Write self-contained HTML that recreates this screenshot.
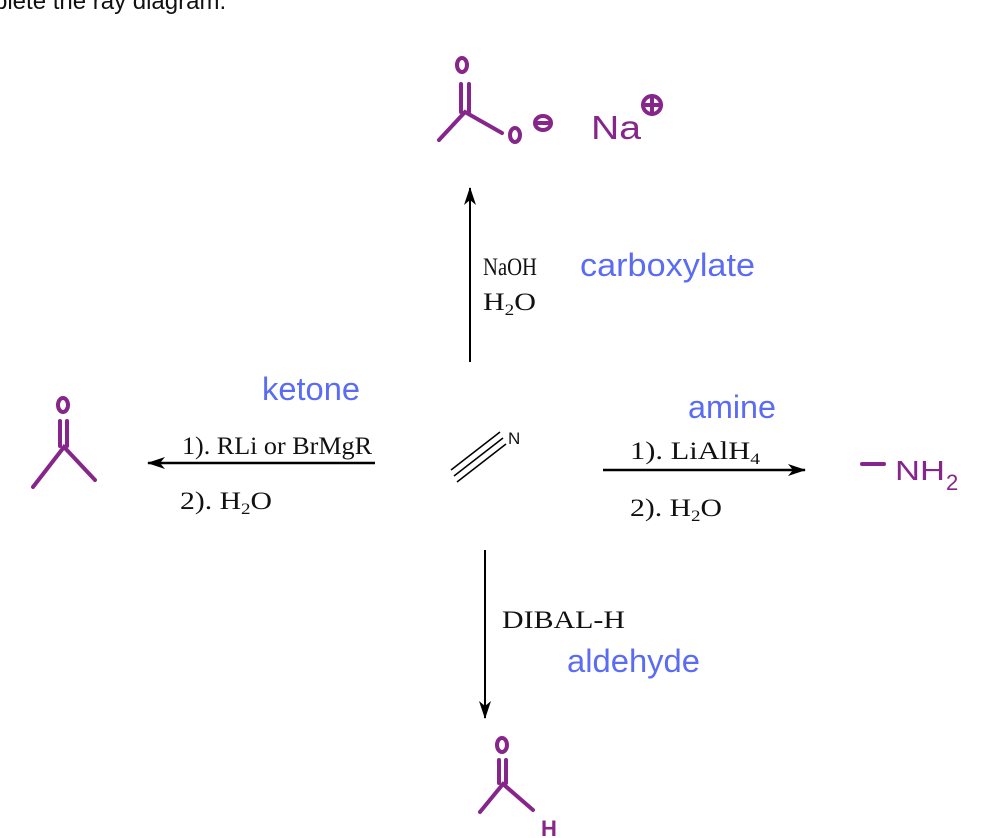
<!DOCTYPE html>
<html><head><meta charset="utf-8"><style>
html,body{margin:0;padding:0;background:#fff;}
svg{display:block;}
.t{font-family:"Liberation Serif",serif;font-size:25px;fill:#111;}
.b{font-family:"Liberation Sans",sans-serif;fill:#5a6cf3;font-size:32px;}
.p{stroke:#86268a;stroke-width:4;fill:none;stroke-linecap:round;}
.pt{font-family:"Liberation Sans",sans-serif;fill:#86268a;}
</style></head><body>
<svg width="1000" height="838" viewBox="0 0 1000 838" xmlns="http://www.w3.org/2000/svg">
<defs><marker id="a" markerWidth="18" markerHeight="12" refX="17" refY="6" orient="auto" markerUnits="userSpaceOnUse"><path d="M0,0 L18,6 L0,12 L5,6 Z" fill="#000"/></marker></defs>
<text x="-6" y="9" font-family="Liberation Sans,sans-serif" font-size="24" fill="#111">plete the ray diagram.</text>
<!-- carboxylate -->
<ellipse class="p" cx="462" cy="65" rx="5" ry="7" stroke-width="3.5"/>
<line class="p" x1="461" y1="84" x2="461" y2="112"/><line class="p" x1="469" y1="84" x2="469" y2="112"/>
<polyline class="p" points="439,140 465,112 502,133"/>
<ellipse class="p" cx="515" cy="135" rx="5" ry="7" stroke-width="3.5"/>
<ellipse class="p" cx="543" cy="123" rx="8" ry="7" stroke-width="3.5"/><line class="p" x1="537" y1="123" x2="549" y2="123" stroke-width="3"/>
<text class="pt" x="591" y="139" font-size="33" textLength="50" lengthAdjust="spacingAndGlyphs">Na</text>
<circle class="p" cx="652" cy="105" r="9" stroke-width="3.5"/><line class="p" x1="643" y1="105" x2="661" y2="105" stroke-width="3"/><line class="p" x1="652" y1="96" x2="652" y2="114" stroke-width="3"/>
<!-- up arrow -->
<line x1="470" y1="362" x2="470" y2="188" stroke="#000" stroke-width="2" marker-end="url(#a)"/>
<text class="t" x="483" y="275" textLength="54" lengthAdjust="spacingAndGlyphs">NaOH</text>
<text class="t" x="483" y="310" textLength="53" lengthAdjust="spacingAndGlyphs">H<tspan font-size="16" dy="5">2</tspan><tspan dy="-5">O</tspan></text>
<text class="b" x="580" y="276" textLength="175" lengthAdjust="spacingAndGlyphs">carboxylate</text>
<!-- ketone -->
<text class="b" x="262" y="400" textLength="98" lengthAdjust="spacingAndGlyphs">ketone</text>
<ellipse class="p" cx="63" cy="405" rx="5" ry="7" stroke-width="3.5"/>
<line class="p" x1="60" y1="421" x2="60" y2="446"/><line class="p" x1="67" y1="421" x2="67" y2="446"/>
<polyline class="p" points="33,487 64,447 95,480"/>
<line x1="375" y1="463" x2="148" y2="463" stroke="#000" stroke-width="2.5" marker-end="url(#a)"/>
<text class="t" x="182" y="454" textLength="190" lengthAdjust="spacingAndGlyphs">1). RLi or BrMgR</text>
<text class="t" x="180" y="509" textLength="92" lengthAdjust="spacingAndGlyphs">2). H<tspan font-size="16" dy="5">2</tspan><tspan dy="-5">O</tspan></text>
<!-- nitrile -->
<line x1="451" y1="470" x2="500" y2="432" stroke="#000" stroke-width="1.5"/>
<line x1="454" y1="476" x2="503" y2="438" stroke="#000" stroke-width="1.5"/>
<line x1="457" y1="482" x2="506" y2="444" stroke="#000" stroke-width="1.5"/>
<text x="508" y="444" font-family="Liberation Sans,sans-serif" font-size="17" fill="#111">N</text>
<!-- amine -->
<text class="b" x="688" y="418" textLength="88" lengthAdjust="spacingAndGlyphs">amine</text>
<line x1="603" y1="470" x2="805" y2="470" stroke="#000" stroke-width="2.5" marker-end="url(#a)"/>
<text class="t" x="630" y="459" textLength="130" lengthAdjust="spacingAndGlyphs">1). LiAlH<tspan font-size="16" dy="5">4</tspan></text>
<text class="t" x="630" y="516" textLength="92" lengthAdjust="spacingAndGlyphs">2). H<tspan font-size="16" dy="5">2</tspan><tspan dy="-5">O</tspan></text>
<line class="p" x1="862" y1="464" x2="884" y2="464"/>
<text class="pt" x="895" y="480" font-size="28" textLength="50" lengthAdjust="spacingAndGlyphs">NH</text><text class="pt" x="946" y="490" font-size="22">2</text>
<!-- down arrow -->
<line x1="485" y1="550" x2="485" y2="718" stroke="#000" stroke-width="2" marker-end="url(#a)"/>
<text class="t" x="502" y="628" textLength="123" lengthAdjust="spacingAndGlyphs">DIBAL-H</text>
<text class="b" x="567" y="672" textLength="133" lengthAdjust="spacingAndGlyphs">aldehyde</text>
<ellipse class="p" cx="502" cy="745" rx="5" ry="7" stroke-width="3.5"/>
<line class="p" x1="499" y1="760" x2="499" y2="783"/><line class="p" x1="506" y1="760" x2="506" y2="783"/>
<polyline class="p" points="480,812 503,784 533,810"/>
<text class="pt" x="541" y="836" font-size="22" font-weight="bold">H</text>
</svg>
</body></html>
